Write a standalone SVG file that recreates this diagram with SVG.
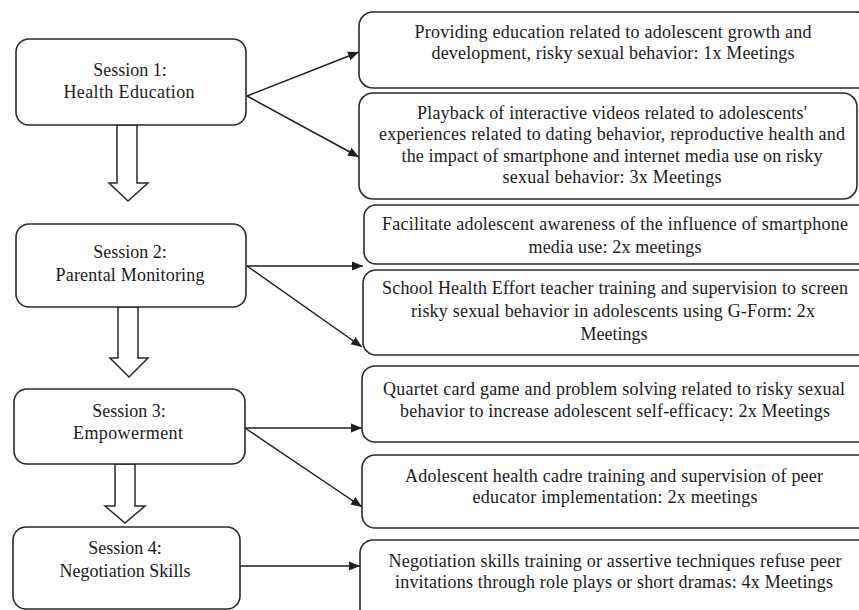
<svg xmlns="http://www.w3.org/2000/svg" width="859" height="610" viewBox="0 0 859 610">
<style>
.box{fill:#fff;stroke:#2a2a2a;stroke-width:1.6}
.t{font-family:'Liberation Serif','Times New Roman',serif;font-size:18px;fill:#1a1a1a;text-anchor:middle}
.c{stroke:#1e1e1e;stroke-width:1.5;fill:none}
.h{fill:#fff;stroke:#2a2a2a;stroke-width:1.5;stroke-linejoin:miter}
</style>
<defs>
<marker id="ah" markerUnits="userSpaceOnUse" markerWidth="12" markerHeight="10" refX="11" refY="5" orient="auto">
<path d="M0,0.5 L11,5 L0,9.5 Z" fill="#1e1e1e"/>
</marker>
</defs>
<rect width="859" height="610" fill="#fff"/>

<g id="connectors">
<line class="c" x1="247" y1="96" x2="359" y2="52" marker-end="url(#ah)"/>
<line class="c" x1="247" y1="96" x2="359" y2="157" marker-end="url(#ah)"/>
<line class="c" x1="247" y1="266" x2="363" y2="266" marker-end="url(#ah)"/>
<line class="c" x1="247" y1="266" x2="362" y2="347" marker-end="url(#ah)"/>
<line class="c" x1="245" y1="428" x2="362" y2="428" marker-end="url(#ah)"/>
<line class="c" x1="245" y1="428" x2="362" y2="507" marker-end="url(#ah)"/>
<line class="c" x1="240" y1="566" x2="360" y2="566" marker-end="url(#ah)"/>
<polygon class="h" points="117,125 137,125 137,183 148,183 128,201 109,183 117,183"/>
<polygon class="h" points="118,307 138,307 138,358 148,358 129,377 110,358 118,358"/>
<polygon class="h" points="115,464 135,464 135,506 145,506 125,523 105,506 115,506"/>
</g>

<g id="session1">
<rect class="box" x="16" y="39" width="230" height="86" rx="13"/>
<text class="t" x="130" y="76">Session 1:</text>
<text class="t" x="129" y="98" textLength="131" lengthAdjust="spacing">Health Education</text>
</g>
<g id="session2">
<rect class="box" x="16" y="224" width="230" height="83" rx="13"/>
<text class="t" x="130" y="258">Session 2:</text>
<text class="t" x="130" y="281" textLength="149" lengthAdjust="spacing">Parental Monitoring</text>
</g>
<g id="session3">
<rect class="box" x="14" y="389" width="231" height="75" rx="13"/>
<text class="t" x="129" y="417">Session 3:</text>
<text class="t" x="128" y="439" textLength="110" lengthAdjust="spacing">Empowerment</text>
</g>
<g id="session4">
<rect class="box" x="13" y="527" width="227" height="82" rx="13"/>
<text class="t" x="125" y="554">Session 4:</text>
<text class="t" x="125" y="577" textLength="131" lengthAdjust="spacing">Negotiation Skills</text>
</g>

<g id="activity1">
<rect class="box" x="359" y="12" width="512" height="76" rx="14"/>
<text class="t" x="613" y="38" textLength="397" lengthAdjust="spacing">Providing education related to adolescent growth and</text>
<text class="t" x="613" y="59" textLength="363" lengthAdjust="spacing">development, risky sexual behavior: 1x Meetings</text>
</g>
<g id="activity2">
<rect class="box" x="359" y="93" width="498" height="106" rx="14"/>
<text class="t" x="612" y="119" textLength="390" lengthAdjust="spacing">Playback of interactive videos related to adolescents'</text>
<text class="t" x="612" y="140" textLength="466" lengthAdjust="spacing">experiences related to dating behavior, reproductive health and</text>
<text class="t" x="612" y="162" textLength="421" lengthAdjust="spacing">the impact of smartphone and internet media use on risky</text>
<text class="t" x="612" y="183" textLength="219" lengthAdjust="spacing">sexual behavior: 3x Meetings</text>
</g>
<g id="activity3">
<rect class="box" x="364" y="205" width="507" height="59" rx="12"/>
<text class="t" x="615" y="230" textLength="466" lengthAdjust="spacing">Facilitate adolescent awareness of the influence of smartphone</text>
<text class="t" x="615" y="253" textLength="173" lengthAdjust="spacing">media use: 2x meetings</text>
</g>
<g id="activity4">
<rect class="box" x="363" y="270" width="508" height="85" rx="13"/>
<text class="t" x="615" y="294" textLength="466" lengthAdjust="spacing">School Health Effort teacher training and supervision to screen</text>
<text class="t" x="613" y="317" textLength="404" lengthAdjust="spacing">risky sexual behavior in adolescents using G-Form: 2x</text>
<text class="t" x="614" y="340" textLength="67" lengthAdjust="spacing">Meetings</text>
</g>
<g id="activity5">
<rect class="box" x="362" y="366" width="509" height="76" rx="13"/>
<text class="t" x="614" y="395" textLength="462" lengthAdjust="spacing">Quartet card game and problem solving related to risky sexual</text>
<text class="t" x="615" y="417" textLength="430" lengthAdjust="spacing">behavior to increase adolescent self-efficacy: 2x Meetings</text>
</g>
<g id="activity6">
<rect class="box" x="362" y="455" width="509" height="73" rx="13"/>
<text class="t" x="614" y="482" textLength="418" lengthAdjust="spacing">Adolescent health cadre training and supervision of peer</text>
<text class="t" x="615" y="503" textLength="285" lengthAdjust="spacing">educator implementation: 2x meetings</text>
</g>
<g id="activity7">
<rect class="box" x="360" y="540" width="511" height="90" rx="13"/>
<text class="t" x="615" y="567" textLength="453" lengthAdjust="spacing">Negotiation skills training or assertive techniques refuse peer</text>
<text class="t" x="614" y="588" textLength="438" lengthAdjust="spacing">invitations through role plays or short dramas: 4x Meetings</text>
</g>
</svg>
